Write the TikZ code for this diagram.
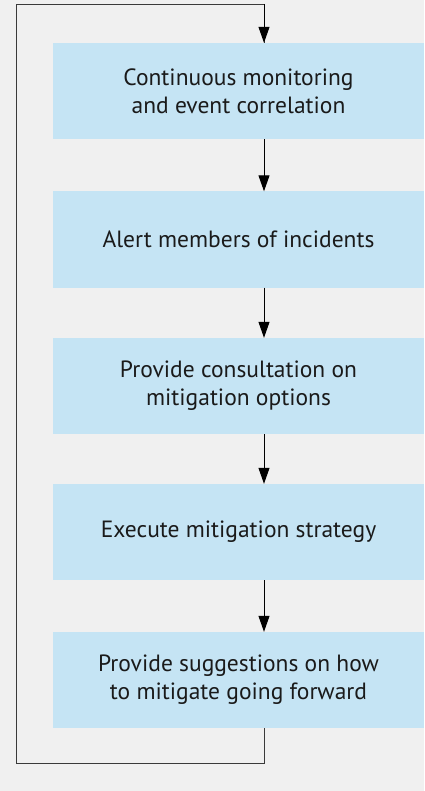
\documentclass[tikz,border=0pt]{standalone}
\usepackage{fontspec}
\setmainfont{PT Sans}
\usetikzlibrary{arrows.meta}
\definecolor{bgc}{HTML}{F0F0F0}
\definecolor{boxc}{HTML}{C5E4F4}
\definecolor{loopc}{HTML}{3A3A3A}
\definecolor{txtc}{HTML}{1A1A1A}
\tikzset{
  stepbox/.style={fill=boxc, draw=none, minimum width=371pt, minimum height=96pt, inner sep=0pt, align=center, font=\fontsize{23.5}{28}\selectfont, text=txtc},
  flow/.style={draw=black, line width=1pt, -{Triangle[length=16pt, width=11pt]}},
  loopline/.style={draw=loopc, line width=1pt}
}
\begin{document}
\begin{tikzpicture}[x=1pt, y=-1pt]
\fill[bgc] (0,0) rectangle (424,791);
\useasboundingbox (0,0) rectangle (424,791);
\node[stepbox] (b1) at (238.5,91) {Continuous monitoring\\and event correlation};
\node[stepbox] (b2) at (238.5,239.5) {Alert members of incidents};
\node[stepbox] (b3) at (238.5,386) {Provide consultation on\\mitigation options};
\node[stepbox] (b4) at (238.5,532) {Execute mitigation strategy};
\node[stepbox] (b5) at (238.5,680) {Provide suggestions on how\\to mitigate going forward};
\coordinate (ax) at (264,0);
\coordinate (lb) at (16,763);
\coordinate (lt) at (16,4.5);
\draw[flow] (b1.south -| ax) -- (b2.north -| ax);
\draw[flow] (b2.south -| ax) -- (b3.north -| ax);
\draw[flow] (b3.south -| ax) -- (b4.north -| ax);
\draw[flow] (b4.south -| ax) -- (b5.north -| ax);
\draw[loopline] (b5.south -| ax) |- (lb) -- (lt) -| (ax |- b1.north);
\draw[flow] (ax |- lt) ++(0,-0.5) -- (b1.north -| ax);
\end{tikzpicture}
\end{document}
